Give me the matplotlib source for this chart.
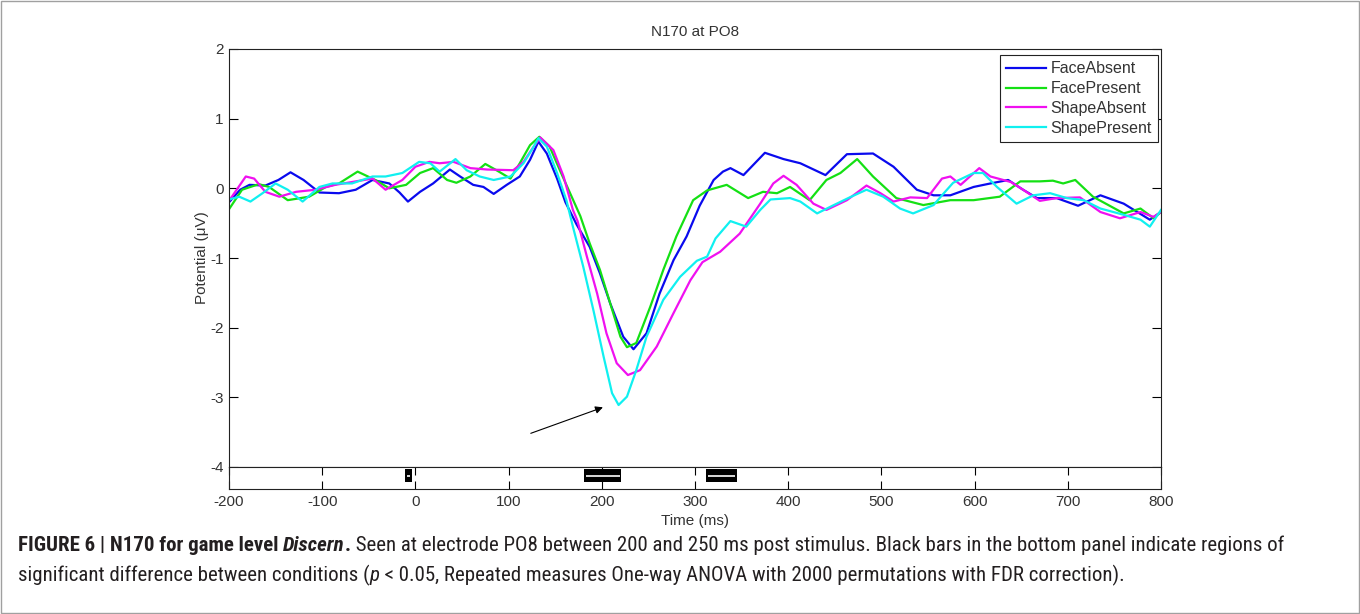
import numpy as np
import matplotlib
matplotlib.use('Agg')
import matplotlib.pyplot as plt
from matplotlib import font_manager
from matplotlib.patches import Rectangle

plt.rcParams['font.family'] = ['Liberation Sans', 'DejaVu Sans']
plt.rcParams['axes.unicode_minus'] = False

# FaceAbsent (blue)
t_fa = [-200, -188, -178, -161, -147, -134, -120, -103, -82, -64, -46, -28, -17, -8, 5, 19, 37, 48, 62, 73,
        84, 98, 112, 123, 132, 141, 152, 161, 173, 187, 198, 209, 223, 234, 248, 262, 277, 291, 305, 320,
        330, 338, 352, 375, 395, 413, 440, 463, 491, 513, 538, 556, 574, 599, 617, 636, 652, 667, 688, 711,
        735, 760, 788, 800]
v_fa = [-0.20, -0.02, 0.05, 0.04, 0.12, 0.23, 0.12, -0.06, -0.07, -0.02, 0.12, 0.07, -0.06, -0.19, -0.05, 0.07, 0.27, 0.17, 0.05, 0.02,
        -0.08, 0.05, 0.17, 0.41, 0.67, 0.50, 0.14, -0.20, -0.52, -0.84, -1.22, -1.65, -2.13, -2.31, -2.08, -1.51, -1.03, -0.69, -0.25, 0.12,
        0.24, 0.29, 0.19, 0.51, 0.42, 0.36, 0.19, 0.49, 0.50, 0.31, -0.02, -0.10, -0.10, 0.02, 0.07, 0.12, -0.02, -0.14, -0.14, -0.25,
        -0.10, -0.22, -0.45, -0.34]

# FacePresent (green)
t_fp = [-200, -186, -168, -157, -137, -114, -96, -82, -62, -43, -28, -10, 5, 19, 34, 44, 59, 75, 87, 102,
        112, 123, 133, 144, 155, 166, 177, 187, 198, 209, 220, 227, 237, 252, 266, 280, 298, 313, 334, 357,
        373, 388, 402, 423, 441, 456, 474, 491, 516, 545, 574, 599, 627, 649, 670, 684, 695, 708, 727, 760,
        778, 792, 800]
v_fp = [-0.30, -0.02, 0.06, 0.02, -0.17, -0.12, 0.02, 0.07, 0.24, 0.12, 0.00, 0.05, 0.22, 0.29, 0.12, 0.08, 0.17, 0.35, 0.26, 0.14,
        0.36, 0.62, 0.74, 0.60, 0.26, -0.07, -0.40, -0.79, -1.17, -1.65, -2.13, -2.28, -2.22, -1.70, -1.17, -0.69, -0.17, -0.03, 0.05, -0.14,
        -0.05, -0.07, 0.02, -0.17, 0.12, 0.22, 0.42, 0.17, -0.14, -0.24, -0.17, -0.17, -0.12, 0.10, 0.10, 0.11, 0.07, 0.12, -0.12, -0.36,
        -0.29, -0.43, -0.34]

# ShapeAbsent (magenta)
t_sa = [-200, -182, -173, -161, -146, -128, -107, -86, -64, -46, -32, -14, 0, 15, 26, 41, 59, 77, 105, 116,
        127, 134, 148, 159, 169, 174, 184, 195, 205, 216, 228, 241, 259, 277, 295, 308, 327, 348, 370, 384,
        395, 409, 427, 441, 463, 484, 499, 513, 531, 549, 565, 574, 585, 605, 617, 639, 652, 670, 688, 713,
        735, 756, 778, 792, 800]
v_sa = [-0.18, 0.17, 0.14, -0.05, -0.12, -0.05, -0.02, 0.05, 0.10, 0.14, -0.02, 0.12, 0.31, 0.38, 0.36, 0.38, 0.29, 0.27, 0.26, 0.38,
        0.60, 0.73, 0.55, 0.17, -0.31, -0.47, -0.98, -1.51, -2.08, -2.51, -2.68, -2.61, -2.27, -1.79, -1.32, -1.06, -0.91, -0.65, -0.22, 0.07,
        0.18, 0.05, -0.22, -0.31, -0.17, 0.04, -0.07, -0.19, -0.13, -0.14, 0.14, 0.17, 0.05, 0.29, 0.17, 0.09, -0.02, -0.18, -0.14, -0.13,
        -0.34, -0.43, -0.34, -0.41, -0.34]

# ShapePresent (cyan)
t_sp = [-200, -189, -177, -164, -150, -137, -121, -103, -89, -68, -46, -32, -14, 4, 16, 26, 43, 55, 69, 84,
        102, 116, 127, 132, 141, 152, 162, 169, 180, 191, 202, 211, 218, 227, 237, 248, 266, 284, 302, 313,
        322, 338, 355, 370, 381, 402, 413, 431, 449, 466, 484, 502, 520, 534, 556, 565, 577, 599, 609, 624,
        645, 663, 681, 699, 717, 735, 760, 778, 788, 800]
v_sp = [-0.16, -0.12, -0.19, -0.07, 0.07, -0.02, -0.19, 0.02, 0.07, 0.07, 0.17, 0.17, 0.22, 0.38, 0.36, 0.24, 0.42, 0.26, 0.17, 0.12,
        0.17, 0.36, 0.60, 0.72, 0.60, 0.22, -0.17, -0.55, -1.12, -1.75, -2.42, -2.94, -3.11, -2.99, -2.61, -2.13, -1.60, -1.27, -1.04, -0.98,
        -0.72, -0.47, -0.55, -0.31, -0.16, -0.14, -0.19, -0.36, -0.24, -0.13, -0.02, -0.12, -0.29, -0.36, -0.24, -0.10, 0.08, 0.22, 0.22, 0.02,
        -0.22, -0.10, -0.07, -0.14, -0.17, -0.29, -0.38, -0.45, -0.55, -0.31]

labels = ['FaceAbsent', 'FacePresent', 'ShapeAbsent', 'ShapePresent']
colors = ['#0a0aee', '#14e014', '#f010f0', '#10f0f0']

# significant windows (ms)
sig_start = [-11, 181, 312]
sig_end = [-4, 221, 345]

xticks = list(range(-200, 801, 100))
yticks = [-4, -3, -2, -1, 0, 1, 2]


def pick_font(names):
    for n in names:
        try:
            font_manager.findfont(font_manager.FontProperties(family=n), fallback_to_default=False)
            return n
        except ValueError:
            pass
    return 'DejaVu Sans'


cap_font = pick_font(['Liberation Sans Narrow', 'Roboto Condensed', 'Liberation Sans'])

W, H = 1360, 614
fig = plt.figure(figsize=(W / 100, H / 100), dpi=100)
fig.patches.append(Rectangle((0.001, 0.002), 0.998, 0.996, transform=fig.transFigure,
                             fill=False, edgecolor='#a0a0a0', linewidth=1.0))

ax = fig.add_axes([229 / W, 1 - 467 / H, 932 / W, 418 / H])
ax2 = fig.add_axes([229 / W, 1 - 489 / H, 932 / W, 22 / H])

series = [(t_fa, v_fa), (t_fp, v_fp), (t_sa, v_sa), (t_sp, v_sp)]
for (tt, vv), lab, col in zip(series, labels, colors):
    ax.plot(tt, vv, color=col, lw=1.6, label=lab)

fs = 11
ax.set_xlim(-200, 800)
ax.set_ylim(-4, 2)
ax.set_xticks([])
ax.set_yticks(yticks)
ax.set_yticklabels([str(y) for y in yticks])
ax.tick_params(axis='y', direction='in', length=6.5, width=0.8, right=True, labelsize=fs, pad=4,
               labelcolor='#333333')
for s in ax.spines.values():
    s.set_linewidth(0.8)
    s.set_color('#222222')
ax.set_title('N170 at PO8', fontsize=fs, pad=9, color='#333333')
ax.set_ylabel('Potential (\u03bcV)', fontsize=fs, labelpad=1, color='#333333')

leg = ax.legend(loc='upper right', bbox_to_anchor=(0.9968, 0.9856), fontsize=11.5, frameon=True,
                fancybox=False, edgecolor='#222222', framealpha=1, borderpad=0.4,
                labelspacing=0.3, handlelength=2.5, handletextpad=0.25, borderaxespad=0)
leg.get_frame().set_linewidth(0.8)
for txt in leg.get_texts():
    txt.set_color('#333333')

# arrow pointing at the ShapePresent minimum
i_min = int(np.argmin(v_sp))
tip = (t_sp[i_min] - 14, v_sp[i_min] - 0.02)
ax.annotate('', xy=tip, xytext=(tip[0] - 83, tip[1] - 0.4),
            arrowprops=dict(arrowstyle='-|>', color='k', lw=0.8, mutation_scale=11))

# bottom significance panel
spans = [(a, b - a) for a, b in zip(sig_start, sig_end)]
ax2.broken_barh(spans, (0.32, 0.57), facecolors='black')
ax2.hlines([0.6] * len(sig_start), [a + 2 for a in sig_start], [b - 2 for b in sig_end],
           colors='white', lw=1.2)
ax2.set_xlim(-200, 800)
ax2.set_ylim(0, 1)
ax2.set_yticks([])
ax2.set_xticks(xticks)
ax2.set_xticklabels([str(x) for x in xticks])
ax2.tick_params(axis='x', direction='in', length=6, width=0.8, top=True, labelsize=fs, pad=4,
                labelcolor='#333333')
for s in ax2.spines.values():
    s.set_linewidth(0.8)
    s.set_color('#222222')
ax2.set_xlabel('Time (ms)', fontsize=fs, labelpad=4, color='#333333')

# caption with mixed styles
renderer = fig.canvas.get_renderer()
cap_size = 15
lines = [
    (551, [('FIGURE 6 | N170 for game level ', 'bold', 'normal'),
           ('Discern', 'bold', 'italic'),
           ('.', 'bold', 'normal'),
           (' Seen at electrode PO8 between 200 and 250 ms post stimulus. Black bars in the bottom panel indicate regions of',
            'normal', 'normal')]),
    (581, [('significant difference between conditions (', 'normal', 'normal'),
           ('p', 'normal', 'italic'),
           (' < 0.05, Repeated measures One-way ANOVA with 2000 permutations with FDR correction).', 'normal', 'normal')]),
]
for ypx, segs in lines:
    x = 18 / W
    for txt, wt, st in segs:
        tobj = fig.text(x, 1 - ypx / H, txt, fontsize=cap_size, fontweight=wt, fontstyle=st,
                        family=[cap_font, 'DejaVu Sans'], color='#231f20', va='baseline', ha='left')
        bb = tobj.get_window_extent(renderer)
        x = bb.x1 / W

fig.savefig('out.png', dpi=100)
